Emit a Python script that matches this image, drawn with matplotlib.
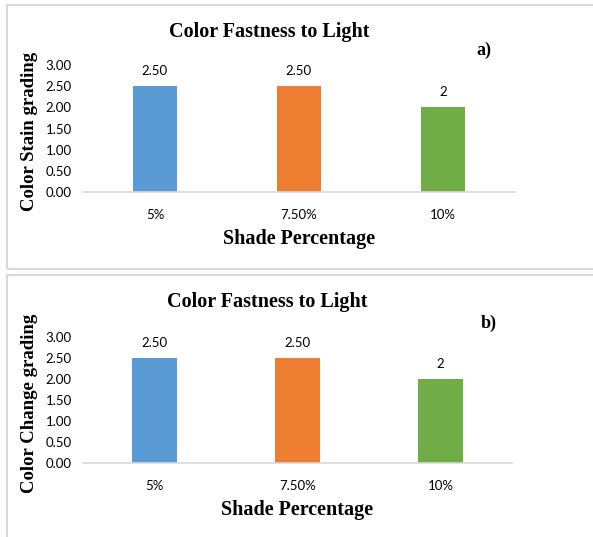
import matplotlib

matplotlib.use("Agg")
import matplotlib.pyplot as plt
from matplotlib.patches import Rectangle

W, H = 593, 537

categories = ["5%", "7.50%", "10%"]
stain_values = [2.5, 2.5, 2.0]
change_values = [2.5, 2.5, 2.0]
bar_labels = ["2.50", "2.50", "2"]
y_ticks = [0.0, 0.5, 1.0, 1.5, 2.0, 2.5, 3.0]
colors = ["#5B9BD5", "#ED7D31", "#70AD47"]

SERIF = "Liberation Serif"
SANS = "Lato"

fig = plt.figure(figsize=(W / 100, H / 100), dpi=100)


def fx(px):
    return px / W


def fy(py):
    return 1 - py / H


def panel(top, bottom, ax_box, values, ylabel, tag, tag_xy, ylabel_y, title_xy):
    # outer chart frame
    fig.patches.append(Rectangle((fx(7), fy(bottom)), fx(W + 10) - fx(7), fy(top) - fy(bottom),
                                 transform=fig.transFigure, fill=False, edgecolor="#D9D9D9", lw=1.5))
    left, right, ytop, ybot = ax_box
    ax = fig.add_axes([fx(left), fy(ybot), fx(right) - fx(left), fy(ytop) - fy(ybot)])
    x = range(len(categories))
    bars = ax.bar(x, values, width=0.31, color=colors, zorder=2)
    for rect, lab in zip(bars, bar_labels):
        ax.annotate(lab, (rect.get_x() + rect.get_width() / 2, rect.get_height()), xytext=(0, 11),
                    textcoords="offset points", ha="center", va="center", fontsize=9.5, family=SANS)
    ax.set_xlim(-0.5, 2.5)
    ax.set_ylim(0, 3)
    ax.set_yticks(y_ticks)
    ax.set_yticklabels([f"{t:.2f}" for t in y_ticks], family=SANS, fontsize=9.5)
    ax.set_xticks(list(x))
    ax.set_xticklabels(categories, family=SANS, fontsize=9.5)
    ax.tick_params(length=0)
    ax.tick_params(axis="x", pad=12)
    ax.tick_params(axis="y", pad=8)
    for side in ["top", "right", "left"]:
        ax.spines[side].set_visible(False)
    ax.spines["bottom"].set_color("#D9D9D9")
    ax.spines["bottom"].set_linewidth(1.2)
    fig.text(fx(title_xy[0]), fy(title_xy[1]), "Color Fastness to Light", ha="center", va="center",
             family=SERIF, fontweight="bold", fontsize=14.5)
    ax.set_xlabel("Shade Percentage", family=SERIF, fontweight="bold", fontsize=14.5, labelpad=6)
    fig.text(fx(30), fy(ylabel_y), ylabel, rotation=90, ha="center", va="center",
             family=SERIF, fontweight="bold", fontsize=13.5)
    fig.text(fx(tag_xy[0]), fy(tag_xy[1]), tag, ha="center", va="center",
             family=SERIF, fontweight="bold", fontsize=13)
    return ax


panel(5, 269, (83, 515, 65, 192), stain_values, "Color Stain grading", "a)", (484, 50), 131, (269, 32))
panel(275, 540, (83, 512, 337, 463), change_values, "Color Change grading", "b)", (489, 323), 403, (267, 302))

fig.savefig("out.png", dpi=100)
